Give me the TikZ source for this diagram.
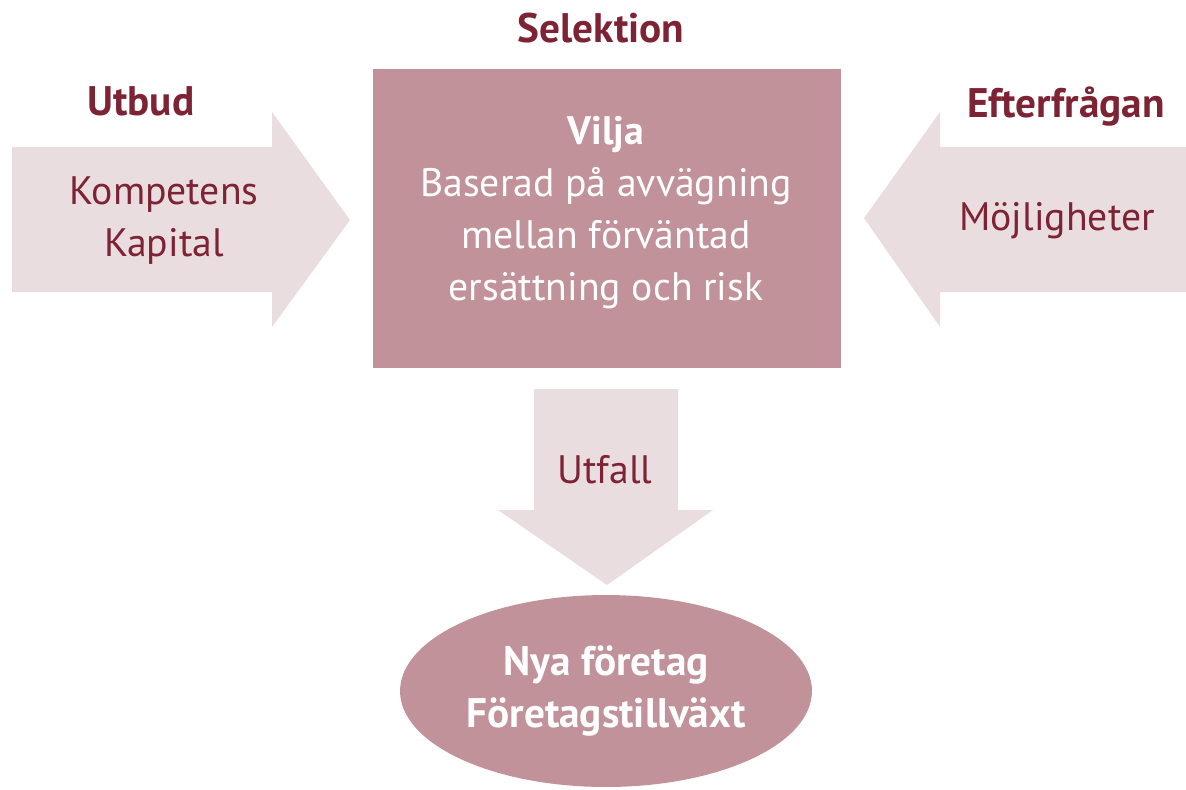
\documentclass[tikz,border=0pt]{standalone}
\usepackage{fontspec}
\setmainfont{PT Sans}
\usepackage{tikz}
\usetikzlibrary{shapes.geometric}
\definecolor{wine}{RGB}{125,35,52}
\definecolor{rose}{RGB}{193,146,153}
\definecolor{blush}{RGB}{234,221,223}
\newcommand{\bigfont}{\fontsize{22.6}{29.6}\selectfont}
\newcommand{\headfont}{\fontsize{23.5}{29.6}\selectfont}
\tikzstyle{graph}=[x=0.02cm, y=-0.02cm]
\tikzstyle{head}=[inner sep=0pt, text=wine, font=\headfont\bfseries]
\tikzstyle{lab}=[inner sep=0pt, text=wine, align=center, font=\bigfont]
\tikzstyle{inlab}=[inner sep=0pt, text=white, align=center, font=\bigfont]
\tikzstyle{choice}=[rectangle, inner sep=0pt, fill=rose, minimum width=9.36cm, minimum height=5.98cm]
\tikzstyle{result}=[ellipse, inner sep=0pt, fill=rose, text=white, align=center, font=\headfont\bfseries, minimum width=8.24cm, minimum height=3.84cm]
\tikzstyle{flow}=[fill=blush]

\begin{document}
\begin{tikzpicture}[graph]
	\useasboundingbox (0,0) rectangle (1186,789);
	% big arrows
	\fill[flow] (12,147) -- (272,147) -- (272,112) -- (350,220) -- (272,327) -- (272,292) -- (12,292) -- cycle;
	\fill[flow] (1186,147) -- (940,147) -- (940,112) -- (864,218) -- (940,327) -- (940,292) -- (1186,292) -- cycle;
	\fill[flow] (534,389) -- (678,389) -- (678,510) -- (713,510) -- (607,585) -- (498,510) -- (534,510) -- cycle;
	% box and ellipse
	\draw (607,218.5) node[choice] (vilja) {};
	\draw (606,213) node[inlab] (viljatext) {\textbf{Vilja}\\Baserad på avvägning\\mellan förväntad\\ersättning och risk};
	\draw (606,691) node[result] (nya) {Nya företag\\Företagstillväxt};
	% labels
	\draw (601,28) node[head] (selektion) {Selektion};
	\draw (141,101) node[head] (utbud) {Utbud};
	\draw (1066,107) node[head] (efterfragan) {Efterfrågan};
	\draw (164,221) node[lab] (kompetens) {Kompetens\\Kapital};
	\draw (1057,221) node[lab] (mojligheter) {Möjligheter};
	\draw (605,470) node[lab] (utfall) {Utfall};
\end{tikzpicture}
\end{document}
